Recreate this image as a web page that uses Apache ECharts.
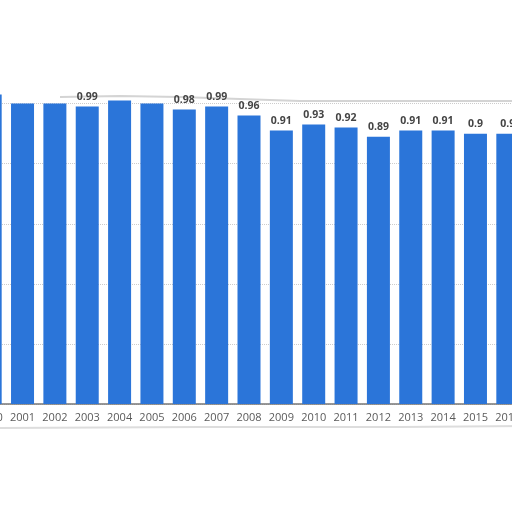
<!DOCTYPE html>
<html>
<head>
<meta charset="utf-8">
<script src="https://cdn.jsdelivr.net/npm/echarts@6/dist/echarts.min.js"></script>
<style>html,body{margin:0;padding:0;background:#fff;overflow:hidden;width:512px;height:512px;}
#c{position:absolute;left:-26px;top:0;width:552px;height:512px;}</style>
</head>
<body>
<div id="c"></div>
<script>
var years = ['2000','2001','2002','2003','2004','2005','2006','2007','2008','2009','2010','2011','2012','2013','2014','2015','2016'];
var values = [1.03, 1.0, 1.0, 0.99, 1.01, 1.0, 0.98, 0.99, 0.96, 0.91, 0.93, 0.92, 0.89, 0.91, 0.91, 0.9, 0.9];
var hiddenLabels = ['2000','2001','2002','2004','2005'];

var OFF = 26;
var chart = echarts.init(document.getElementById('c'));
var data = values.map(function(v, i){
  return { value: v, label: { show: hiddenLabels.indexOf(years[i]) < 0 } };
});
chart.setOption({
  animation: false,
  backgroundColor: '#fff',
  grid: { left: 0, right: 2, top: 43.5, bottom: 108, containLabel: false },
  xAxis: {
    type: 'category', data: years,
    axisLine: { lineStyle: { color: '#777', width: 1.5 } },
    axisTick: { show: false },
    axisLabel: { interval: 0, color: '#5a5a5a', fontSize: 11, fontFamily: 'Open Sans', margin: 8 }
  },
  yAxis: {
    type: 'value', min: 0, max: 1.2, interval: 0.2,
    axisLabel: { show: false }, axisLine: { show: false }, axisTick: { show: false },
    splitLine: { lineStyle: { color: '#ccc', type: 'dotted' } }
  },
  series: [{
    type: 'bar', data: data, barWidth: 23,
    itemStyle: { color: '#2b75d9' },
    label: { position: 'top', color: '#444', fontWeight: 'bold', fontSize: 10.5, fontFamily: 'Open Sans', distance: 4 }
  }],
  graphic: [
    { type: 'rect', shape: { x: 0, y: 0, width: 552, height: 70 }, style: { fill: '#fff' }, z: 100 },
    { type: 'polyline', shape: { points: [[60+OFF,97],[120+OFF,96],[180+OFF,97],[240+OFF,99],[300+OFF,101],[552,101]] }, style: { stroke: '#d4d4d4', lineWidth: 2, fill: null }, z: -1 },
    { type: 'polyline', shape: { points: [[OFF,428],[200+OFF,427],[400+OFF,427],[552,426]] }, style: { stroke: '#ddd', lineWidth: 2, fill: null }, z: -1 }
  ]
});
</script>
</body>
</html>
